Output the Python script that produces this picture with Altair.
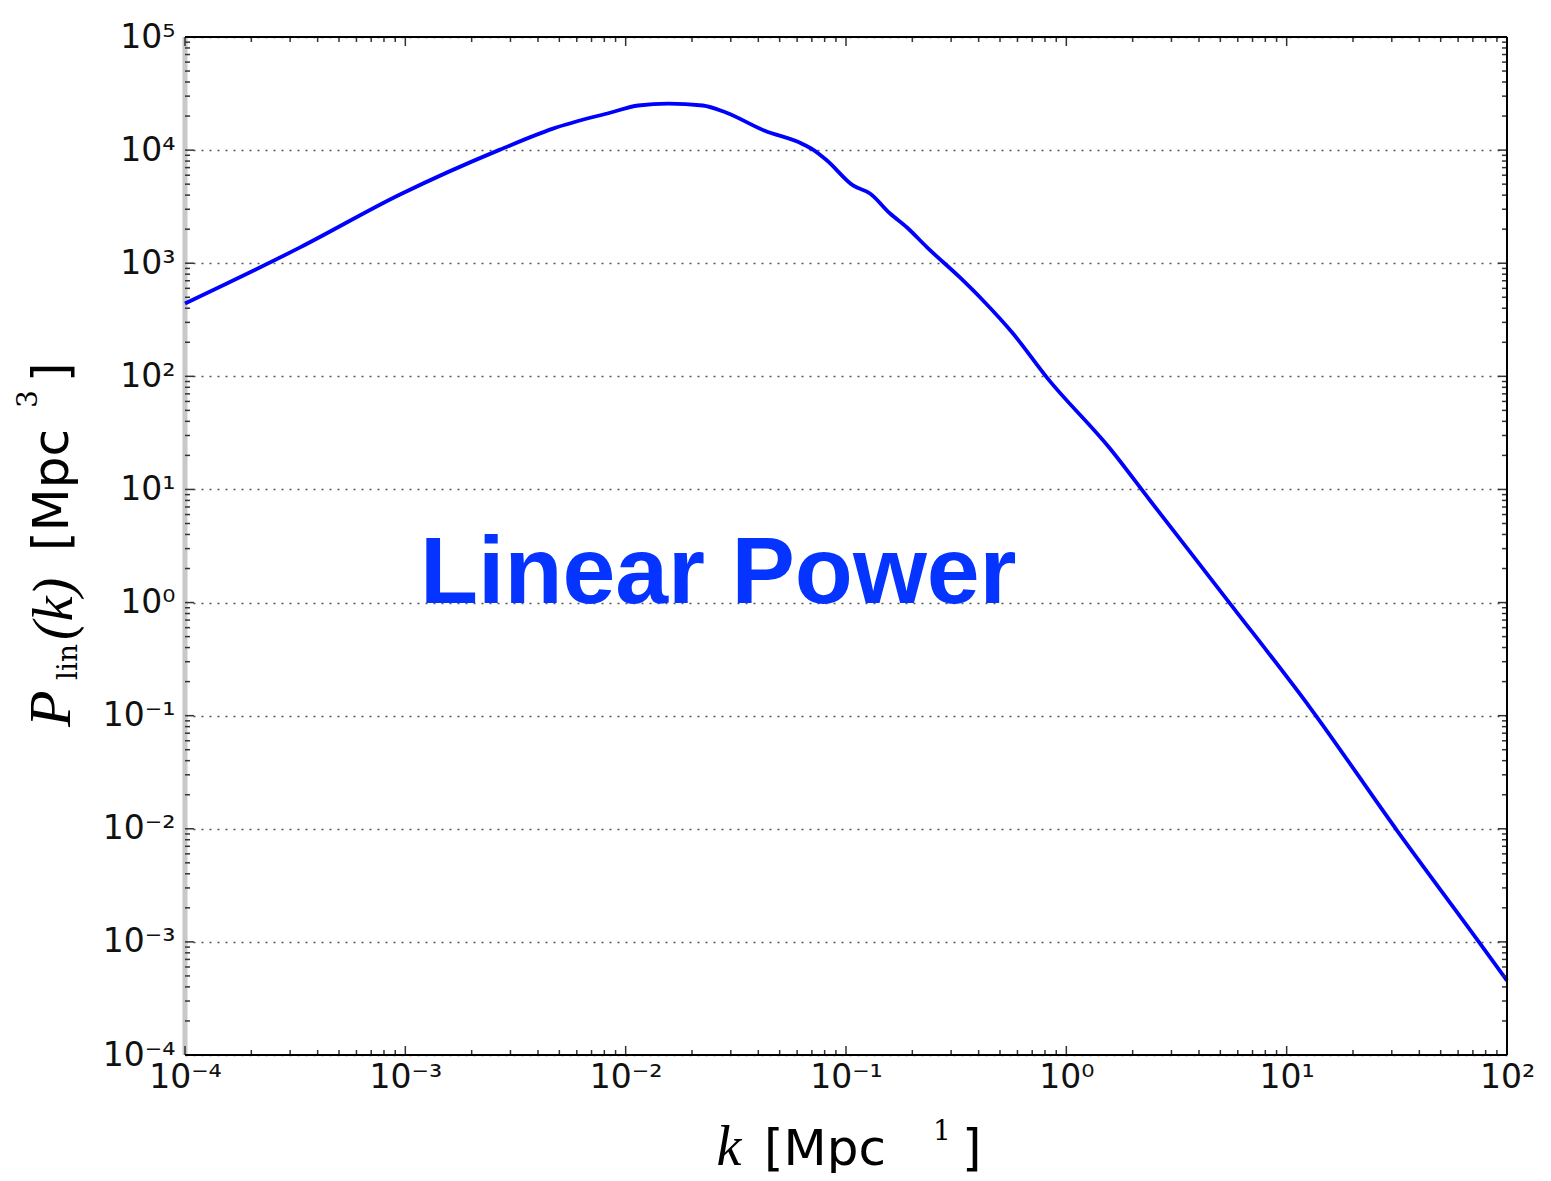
import altair as alt
import pandas as pd

# ---- data ----
K = [1.0e-4, 3.33e-4, 9.46e-4, 2.69e-3, 4.68e-3, 8.57e-3, 1.14e-2, 1.56e-2, 2.24e-2,
     2.85e-2, 4.25e-2, 6.31e-2, 7.08e-2, 8.20e-2, 0.1076, 0.1285, 0.1585, 0.1892,
     0.2333, 0.3289, 0.4188, 0.5728, 0.8166, 1.578, 2.399, 5.534, 12.76, 31.70, 75.51, 100.0]
P = [441, 1380, 4050, 10100, 15500, 21500, 24800, 25800, 24800, 21500, 14900, 11400,
     10100, 8090, 4870, 4130, 2750, 2070, 1380, 748, 468, 239, 97.5, 23.0, 7.98, 0.98,
     0.118, 0.00964, 0.000966, 0.000455]

X_MAJOR = [1e-4, 1e-3, 1e-2, 1e-1, 1e0, 1e1, 1e2]
X_EXP = [-4, -3, -2, -1, 0, 1, 2]
X_LABELS = ["10⁻⁴", "10⁻³", "10⁻²", "10⁻¹", "10⁰", "10¹", "10²"]
Y_MAJOR = [1e-4, 1e-3, 1e-2, 1e-1, 1e0, 1e1, 1e2, 1e3, 1e4, 1e5]
Y_EXP = [-4, -3, -2, -1, 0, 1, 2, 3, 4, 5]
Y_LABELS = ["10⁻⁴", "10⁻³", "10⁻²", "10⁻¹", "10⁰", "10¹", "10²", "10³", "10⁴", "10⁵"]
MINOR_MULT = [2, 3, 4, 5, 6, 7, 8, 9]

ANNOT = "Linear Power"
X_TITLE = ["k", "[Mpc", "1", "]"]
Y_TITLE = ["P", "lin", "(k)", "[Mpc", "3", "]"]

W, H = 1322, 1018

df = pd.DataFrame({"k": K, "P": P})
x_minor = pd.DataFrame({"k": [m * d for d in X_MAJOR[:-1] for m in MINOR_MULT]})
y_minor = pd.DataFrame({"P": [m * d for d in Y_MAJOR[:-1] for m in MINOR_MULT]})
x_major = pd.DataFrame({"k": X_MAJOR})
y_major = pd.DataFrame({"P": Y_MAJOR})
one = pd.DataFrame({"a": [0]})

xs = alt.Scale(type="log", domain=[1e-4, 1e2], nice=False)
ys = alt.Scale(type="log", domain=[1e-4, 1e5], nice=False)


def label_expr(exps, labels):
    s = ""
    for e, lab in zip(exps, labels):
        s += f"abs(log(datum.value)/LN10 - ({e})) < 0.01 ? '{lab}' : "
    return s + "''"


axis_common = dict(ticks=False, domain=False, labelFont="DejaVu Sans", labelFontSize=33,
                   labelColor="#111111", title=None, labelFlush=False, labelOverlap=False)

X_AX = alt.Axis(values=X_MAJOR, labelExpr=label_expr(X_EXP, X_LABELS),
                grid=False, labelPadding=6, **axis_common)
Y_AX = alt.Axis(values=Y_MAJOR, labelExpr=label_expr(Y_EXP, Y_LABELS),
                grid=True, gridDash=[2, 6], gridColor="#555555",
                gridWidth=1.5, labelPadding=10, **axis_common)

XENC = alt.X("k:Q", scale=xs, axis=X_AX)
YENC = alt.Y("P:Q", scale=ys, axis=Y_AX)

line = alt.Chart(df).mark_line(color="#0000ff", strokeWidth=3.8, interpolate="monotone").encode(
    x=XENC, y=YENC)

# borders
left_border = alt.Chart(one).mark_rule(color="#c8c8c8", strokeWidth=5).encode(
    x=alt.value(0), y=alt.value(0), y2=alt.value(H))
top_border = alt.Chart(one).mark_rule(color="black", strokeWidth=2).encode(
    x=alt.value(0), x2=alt.value(W), y=alt.value(0))
bottom_border = alt.Chart(one).mark_rule(color="black", strokeWidth=2).encode(
    x=alt.value(0), x2=alt.value(W), y=alt.value(H))
right_border = alt.Chart(one).mark_rule(color="black", strokeWidth=2).encode(
    x=alt.value(W), y=alt.value(0), y2=alt.value(H))


def xticks(data, length):
    b = alt.Chart(data).mark_rule(color="#333333", strokeWidth=1.5).encode(
        x=XENC, y=alt.value(H), y2=alt.value(H - length))
    t = alt.Chart(data).mark_rule(color="#333333", strokeWidth=1.5).encode(
        x=XENC, y=alt.value(0), y2=alt.value(length))
    return [b, t]


def yticks(data, length):
    l = alt.Chart(data).mark_rule(color="#333333", strokeWidth=1.5).encode(
        y=YENC, x=alt.value(0), x2=alt.value(length))
    r = alt.Chart(data).mark_rule(color="#333333", strokeWidth=1.5).encode(
        y=YENC, x=alt.value(W), x2=alt.value(W - length))
    return [l, r]


def txt(s, x, y, font, size, style="normal", weight="normal", angle=0, align="left",
        color="black", baseline="alphabetic"):
    return alt.Chart(alt.Data(values=[{"t": s}])).mark_text(
        font=font, fontSize=size, fontStyle=style, fontWeight=weight, angle=angle,
        align=align, baseline=baseline, color=color).encode(
        x=alt.value(x), y=alt.value(y), text="t:N")


texts = [
    txt(ANNOT, 235, 566, "Liberation Sans", 95, weight="bold", color="#0533ff"),
    # x title
    txt(X_TITLE[0], 544, 1128, "Liberation Serif", 56, style="italic", align="center"),
    txt(X_TITLE[1], 579, 1128, "DejaVu Sans", 50),
    txt(X_TITLE[2], 757, 1103, "DejaVu Serif", 28, align="center"),
    txt(X_TITLE[3], 777, 1128, "DejaVu Sans", 50),
    # y title (rotated)
    txt(Y_TITLE[0], -115, 690, "Liberation Serif", 60, style="italic", angle=270),
    txt(Y_TITLE[1], -108, 643, "DejaVu Serif", 28, angle=270),
    txt(Y_TITLE[2], -113, 603, "Liberation Serif", 56, style="italic", angle=270),
    txt(Y_TITLE[3], -117, 514, "DejaVu Sans", 50, angle=270),
    txt(Y_TITLE[4], -148, 371, "DejaVu Serif", 28, angle=270),
    txt(Y_TITLE[5], -117, 345, "DejaVu Sans", 50, angle=270),
]

layers = [left_border, line] + xticks(x_minor, 5) + xticks(x_major, 9) + \
    yticks(y_minor, 5) + yticks(y_major, 9) + [top_border, bottom_border, right_border] + texts

chart = alt.layer(*layers).properties(
    width=W, height=H,
    padding={"left": 177, "top": 29, "right": 32, "bottom": 118},
    autosize=alt.AutoSizeParams(type="none"),
).configure_view(strokeWidth=0)

chart.save("out.html", embed_options={"renderer": "svg", "actions": False})
